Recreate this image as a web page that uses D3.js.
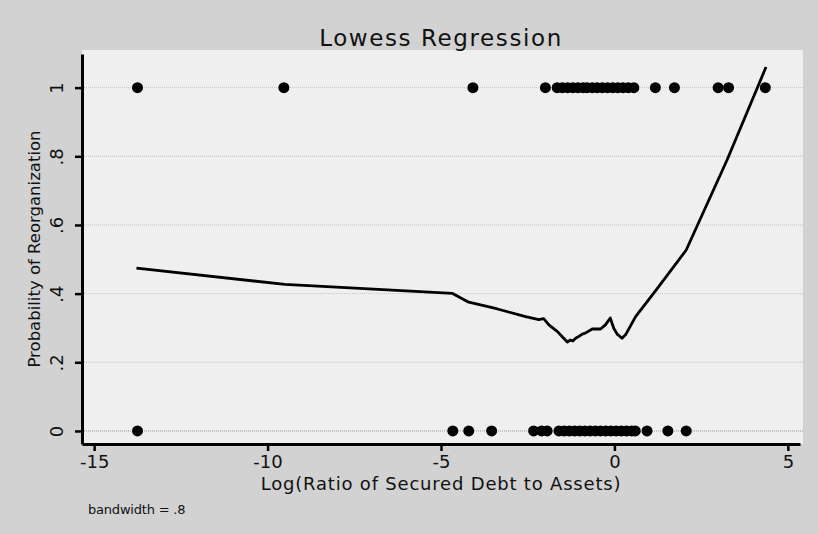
<!DOCTYPE html>
<html>
<head>
<meta charset="utf-8">
<script src="https://cdn.jsdelivr.net/npm/d3@7"></script>
<style>
  body { margin: 0; background: #d2d2d2; }
  text { font-family: "DejaVu Sans", sans-serif; fill: #111; }
</style>
</head>
<body>
<div id="chart"></div>
<script>
// Observations at y = 1 (reorganized) and y = 0
const reorgX = [-13.75, -9.53, -4.08, -1.99,
  -1.65, -1.5, -1.35, -1.2, -1.05, -0.9, -0.79,
  -0.64, -0.5, -0.35, -0.2, -0.05, 0.1, 0.25, 0.4, 0.56,
  1.18, 1.73, 2.99, 3.29, 4.35];
const liquidX = [-13.75, -4.66, -4.2, -3.54, -2.33, -2.1, -1.94,
  -1.6, -1.45, -1.3, -1.15, -1.0, -0.85, -0.7, -0.55, -0.4, -0.25, -0.1,
  0.05, 0.2, 0.35, 0.5, 0.6, 0.94, 1.54, 2.07];

// lowess smooth
const lowessX = [-13.78, -9.5, -5.6, -4.68, -4.2, -3.4, -2.56, -2.18, -2.04, -1.89, -1.65,
  -1.51, -1.36, -1.27, -1.2, -1.12, -1.03, -0.93, -0.84, -0.64, -0.4, -0.26, -0.12,
  -0.02, 0.08, 0.22, 0.32, 0.61, 1.2, 2.07, 3.25, 4.37];
const lowessY = [0.474, 0.427, 0.406, 0.401, 0.375, 0.356, 0.333, 0.324, 0.327, 0.309, 0.29,
  0.275, 0.259, 0.265, 0.262, 0.27, 0.275, 0.282, 0.285, 0.297, 0.297, 0.309, 0.329,
  0.299, 0.282, 0.27, 0.28, 0.333, 0.41, 0.527, 0.79, 1.06];

const xTicks = [-15, -10, -5, 0, 5];
const yTicks = [0, 0.2, 0.4, 0.6, 0.8, 1];
const yTickLabels = ["0", ".2", ".4", ".6", ".8", "1"];

const width = 818, height = 534;
const plot = { left: 82, right: 803, top: 50, bottom: 444 };

const svg = d3.select("#chart")
  .append("svg")
  .attr("width", width)
  .attr("height", height);

svg.append("rect")
  .attr("width", width).attr("height", height)
  .attr("fill", "#d2d2d2");

svg.append("rect")
  .attr("x", plot.left).attr("y", plot.top)
  .attr("width", plot.right - plot.left)
  .attr("height", plot.bottom - plot.top)
  .attr("fill", "#efefef");

const x = d3.scaleLinear()
  .domain([-15.35, 5.35])
  .range([82, 800]);

const y = d3.scaleLinear()
  .domain([-0.038, 1.098])
  .range([444, 54]);

// grid lines
svg.append("g")
  .selectAll("line")
  .data(yTicks)
  .enter()
  .append("line")
  .attr("x1", plot.left).attr("x2", plot.right)
  .attr("y1", d => y(d)).attr("y2", d => y(d))
  .attr("stroke", d => d === 0 ? "#999" : "#c4c4c4")
  .attr("stroke-width", 1)
  .attr("stroke-dasharray", "1,1");

// axes
const xAxis = svg.append("g")
  .attr("transform", `translate(0, ${plot.bottom})`)
  .call(d3.axisBottom(x).tickValues(xTicks).tickSize(7).tickSizeOuter(0)
    .tickFormat(d => d < 0 ? "-" + Math.abs(d) : d));
xAxis.select(".domain").attr("stroke-width", 3).attr("stroke", "#000");
xAxis.selectAll(".tick line").attr("stroke-width", 2.5);
xAxis.selectAll("text")
  .attr("y", 11)
  .style("font-size", "18px")
  .style("font-family", "DejaVu Sans, sans-serif");

const yAxis = svg.append("g")
  .attr("transform", `translate(${plot.left}, 0)`)
  .call(d3.axisLeft(y).tickValues(yTicks).tickSize(7).tickSizeOuter(0)
    .tickFormat((d, i) => yTickLabels[i]));
yAxis.select(".domain").attr("stroke-width", 3).attr("stroke", "#000");
yAxis.selectAll(".tick line").attr("stroke-width", 2.5);
yAxis.selectAll("text")
  .attr("x", 0).attr("y", 0)
  .attr("dy", 0)
  .attr("transform", "translate(-19,0) rotate(-90)")
  .style("text-anchor", "middle")
  .style("font-size", "18px")
  .style("font-family", "DejaVu Sans, sans-serif");

// data points
svg.append("g")
  .selectAll("circle")
  .data(reorgX)
  .enter()
  .append("circle")
  .attr("cx", d => x(d))
  .attr("cy", y(1))
  .attr("r", 5.5)
  .attr("fill", "#000");

svg.append("g")
  .selectAll("circle")
  .data(liquidX)
  .enter()
  .append("circle")
  .attr("cx", d => x(d))
  .attr("cy", y(0))
  .attr("r", 5.5)
  .attr("fill", "#000");

// lowess line
const line = d3.line()
  .x(d => x(d[0]))
  .y(d => y(d[1]));

svg.append("path")
  .datum(d3.zip(lowessX, lowessY))
  .attr("d", line)
  .attr("fill", "none")
  .attr("stroke", "#000")
  .attr("stroke-width", 2.8)
  .attr("stroke-linejoin", "round");

// titles
svg.append("text")
  .attr("x", 441).attr("y", 46)
  .attr("text-anchor", "middle")
  .style("font-size", "23px")
  .style("letter-spacing", "1.6px")
  .text("Lowess Regression");

svg.append("text")
  .attr("x", 441).attr("y", 490)
  .attr("text-anchor", "middle")
  .style("font-size", "18px")
  .style("letter-spacing", "0.8px")
  .text("Log(Ratio of Secured Debt to Assets)");

svg.append("text")
  .attr("transform", "rotate(-90)")
  .attr("x", -249).attr("y", 40)
  .attr("text-anchor", "middle")
  .style("font-size", "16.5px")
  .text("Probability of Reorganization");

svg.append("text")
  .attr("x", 88).attr("y", 514)
  .style("font-size", "13px")
  .style("letter-spacing", "-0.2px")
  .text("bandwidth = .8");
</script>
</body>
</html>
